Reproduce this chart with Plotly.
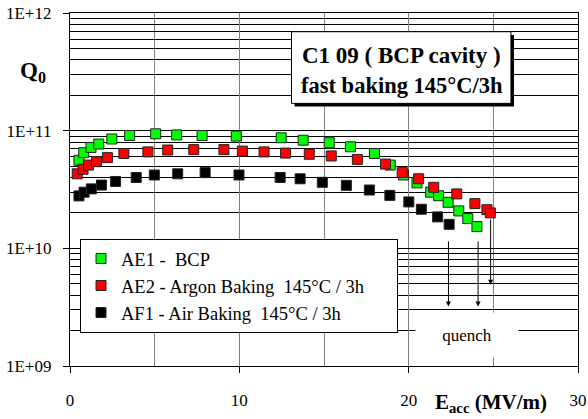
import numpy as np
import plotly.graph_objects as go

# ---------------- data ----------------
ae1_x = [0.53, 0.81, 1.24, 1.70, 2.47, 3.52, 5.06, 6.30, 7.80, 9.82,
         12.47, 13.77, 15.31, 16.56, 17.98, 18.91, 19.70, 20.49,
         21.30, 21.77, 22.33, 22.96, 23.49, 24.03]
ae1_q = [5.6e10, 6.5e10, 7.2e10, 7.7e10, 8.5e10, 9.1e10, 9.4e10, 9.2e10, 9.1e10, 9.0e10,
         8.7e10, 8.3e10, 7.9e10, 7.3e10, 6.4e10, 5.1e10, 4.2e10, 3.6e10,
         3.0e10, 2.8e10, 2.46e10, 2.08e10, 1.79e10, 1.53e10]

ae2_x = [0.43, 0.77, 1.09, 1.56, 2.21, 3.18, 4.60, 5.77, 7.31, 9.09, 10.18,
         11.46, 12.73, 14.13, 15.43, 16.97, 18.63, 19.62, 20.59,
         21.48, 22.84, 23.91, 24.62, 24.82]
ae2_q = [4.3e10, 4.7e10, 5.1e10, 5.45e10, 5.9e10, 6.4e10, 6.6e10, 6.85e10, 6.9e10, 6.9e10, 6.7e10,
         6.6e10, 6.45e10, 6.3e10, 6.1e10, 5.7e10, 5.2e10, 4.4e10, 3.9e10,
         3.3e10, 2.9e10, 2.4e10, 2.13e10, 2.0e10]

af1_x = [0.53, 0.83, 1.26, 1.86, 2.69, 3.91, 4.98, 6.36, 7.98, 9.98,
         12.41, 13.59, 14.90, 16.32, 17.68, 18.89, 20.01, 20.75, 21.71, 22.39]
af1_q = [2.79e10, 3.0e10, 3.2e10, 3.45e10, 3.7e10, 4.0e10, 4.2e10, 4.3e10, 4.4e10, 4.2e10,
         4.0e10, 3.9e10, 3.64e10, 3.43e10, 3.13e10, 2.82e10, 2.48e10, 2.15e10, 1.85e10, 1.6e10]

series_names = ["AE1 -\u00a0 BCP",
                "AE2 - Argon Baking\u00a0 145°C / 3h\u00a0\u00a0\u00a0\u00a0\u00a0\u00a0",
                "AF1 - Air Baking\u00a0 145°C / 3h"]
series_colors = ["#00FF00", "#FF0000", "#000000"]

# quench arrows: x position, start Q, end Q
quench_x = [22.35, 24.10, 24.84]
quench_q_start = [1.18e10, 1.18e10, 1.81e10]
quench_q_end = [3.2e9, 3.2e9, 4.9e9]

x_ticks = [0, 10, 20, 30]
x_minor = [5, 15, 25]
y_ticks = [1e9, 1e10, 1e11, 1e12]
y_ticklabels = ["1E+09", "1E+10", "1E+11", "1E+12"]
y_minor = [m * 10 ** e for e in (9, 10, 11) for m in range(2, 10)]

FONT = "Liberation Serif"

fig = go.Figure()
for i, (xs, qs) in enumerate([(ae1_x, ae1_q), (ae2_x, ae2_q), (af1_x, af1_q)]):
    fig.add_trace(go.Scatter(
        x=xs, y=qs, mode="markers", name=series_names[i],
        legendgroup=f"g{i}",
        marker=dict(symbol="square", size=10, color=series_colors[i],
                    line=dict(color="#222222", width=1)),
    ))

annotations = []
for xq, q0, q1 in zip(quench_x, quench_q_start, quench_q_end):
    annotations.append(dict(
        x=xq, y=np.log10(q1), ax=xq, ay=np.log10(q0),
        xref="x", yref="y", axref="x", ayref="y",
        showarrow=True, arrowhead=2, arrowsize=1, arrowwidth=1,
        arrowcolor="black", text=""))

annotations.append(dict(
    x=23.43, y=9.263, xref="x", yref="y", text="quench", showarrow=False,
    xanchor="center", yanchor="middle",
    bgcolor="white", width=100, height=42,
    font=dict(family=FONT, size=17, color="black")))

annotations.append(dict(
    x=-0.1024, y=0.833, xref="paper", yref="paper", xanchor="left", yanchor="middle",
    text="<b>Q<sub>0</sub></b>",
    showarrow=False, font=dict(family=FONT, size=23, color="black")))
annotations.append(dict(
    x=0.7146, y=-0.106, xref="paper", yref="paper", xanchor="left", yanchor="middle",
    text="<b>E<sub>acc</sub> (MV/m)</b>",
    showarrow=False, font=dict(family=FONT, size=21, color="black")))
annotations.append(dict(
    x=0.653, y=0.881, xref="paper", yref="paper", xanchor="center", yanchor="middle",
    text="<b>C1 09 ( BCP cavity )</b>",
    showarrow=False, font=dict(family=FONT, size=23, color="black")))
annotations.append(dict(
    x=0.653, y=0.796, xref="paper", yref="paper", xanchor="center", yanchor="middle",
    text="<b>fast baking 145°C/3h</b>",
    showarrow=False, font=dict(family=FONT, size=22.5, color="black")))

shapes = [
    dict(type="rect", xref="paper", yref="paper", x0=0.442, x1=0.874, y0=0.735, y1=0.938,
         fillcolor="black", line=dict(width=0), layer="above"),
    dict(type="rect", xref="paper", yref="paper", x0=0.436, x1=0.868, y0=0.744, y1=0.947,
         fillcolor="white", line=dict(color="black", width=1), layer="above"),
]

fig.update_layout(
    width=588, height=419,
    margin=dict(l=70, r=10, t=13, b=53),
    paper_bgcolor="white", plot_bgcolor="white",
    font=dict(family=FONT, size=17, color="black"),
    showlegend=True,
    legend=dict(x=0.0197, y=0.36, xanchor="left", yanchor="top",
                bgcolor="white", bordercolor="black", borderwidth=1,
                font=dict(family=FONT, size=18.5, color="black"),
                tracegroupgap=0),
    annotations=annotations,
    shapes=shapes,
)

fig.update_xaxes(
    range=[0, 30], tickvals=x_ticks, ticktext=[str(v) for v in x_ticks],
    showgrid=True, gridcolor="#808080", gridwidth=1.3,
    showline=True, linecolor="black", linewidth=1.3, mirror=True,
    ticks="outside", ticklen=6, tickcolor="black",
    ticklabelstandoff=12, automargin=False,
    minor=dict(tickvals=x_minor, showgrid=True, gridcolor="#808080", gridwidth=1.3, ticks=""),
    zeroline=False,
    tickfont=dict(family=FONT, size=17, color="black"),
)
fig.update_yaxes(
    type="log", range=[9, 12], tickvals=y_ticks, ticktext=y_ticklabels,
    showgrid=True, gridcolor="black", gridwidth=1,
    showline=True, linecolor="black", linewidth=1.3, mirror=True,
    ticks="outside", ticklen=6, tickcolor="black", automargin=False,
    ticklabelstandoff=8,
    minor=dict(tickvals=y_minor, showgrid=True, gridcolor="black", gridwidth=1, ticks=""),
    zeroline=False,
    tickfont=dict(family=FONT, size=17, color="black"),
)

fig.write_html("out.html", config={"displayModeBar": False},
               post_script="document.body.style.margin='0px';")
